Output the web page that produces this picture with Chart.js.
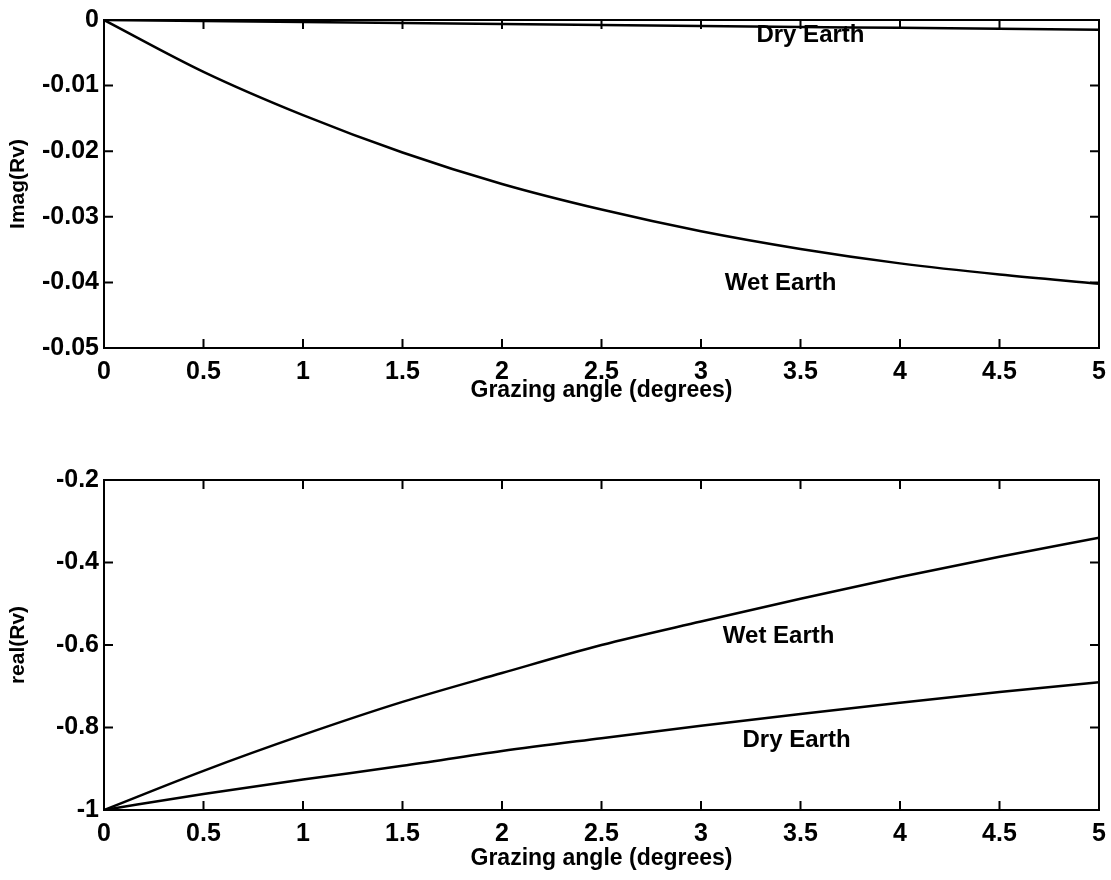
<!DOCTYPE html>
<html>
<head>
<meta charset="utf-8">
<script src="https://cdn.jsdelivr.net/npm/chart.js@4.4.0/dist/chart.umd.min.js"></script>
<style>
  body { margin: 0; background: #fff; }
  .box { width: 1111px; height: 440px; }
</style>
</head>
<body>
<div class="box"><canvas id="imagChart" width="1111" height="440"></canvas></div>
<div class="box"><canvas id="realChart" width="1111" height="440"></canvas></div>
<script>
// grazing angle (degrees)
const angles = [0, 0.5, 1, 1.5, 2, 2.5, 3, 3.5, 4, 4.5, 5];
const xTicks = [0, 0.5, 1, 1.5, 2, 2.5, 3, 3.5, 4, 4.5, 5];
const xTickLabels = ['0', '0.5', '1', '1.5', '2', '2.5', '3', '3.5', '4', '4.5', '5'];

// top plot: imag(Rv)
const imagWet = [0, -0.0079, -0.0145, -0.0202, -0.0250, -0.0289, -0.0322, -0.0349, -0.0371, -0.0388, -0.0402];
const imagDry = [0, -0.00015, -0.0003, -0.00045, -0.0006, -0.00075, -0.0009, -0.00105, -0.0012, -0.00135, -0.0015];
const imagTicks = [-0.05, -0.04, -0.03, -0.02, -0.01, 0];
const imagTickLabels = ['-0.05', '-0.04', '-0.03', '-0.02', '-0.01', '0'];

// bottom plot: real(Rv)
const realWet = [-1, -0.905, -0.818, -0.738, -0.668, -0.600, -0.543, -0.488, -0.435, -0.386, -0.340];
const realDry = [-1, -0.961, -0.926, -0.893, -0.857, -0.826, -0.796, -0.767, -0.740, -0.714, -0.690];
const realTicks = [-1, -0.8, -0.6, -0.4, -0.2];
const realTickLabels = ['-1', '-0.8', '-0.6', '-0.4', '-0.2'];

// curve labels, in data coordinates
const imagLabels = [{ text: 'Dry Earth', x: 3.55, y: -0.0023 }, { text: 'Wet Earth', x: 3.40, y: -0.0402 }];
const realLabels = [{ text: 'Wet Earth', x: 3.39, y: -0.58 }, { text: 'Dry Earth', x: 3.48, y: -0.83 }];

const FONT = 'Liberation Sans, Arial, Helvetica, sans-serif';

function toPoints(ys) {
  return angles.map((a, i) => ({ x: a, y: ys[i] }));
}

// matlab style frame: full box with inward ticks on all four sides
const framePlugin = {
  id: 'frame',
  afterDraw: (chart) => {
    const { ctx, chartArea: a, scales } = chart;
    const len = 9;
    ctx.save();
    ctx.strokeStyle = '#000';
    ctx.lineWidth = 2;
    ctx.strokeRect(a.left, a.top, a.right - a.left, a.bottom - a.top);
    ctx.beginPath();
    scales.x.ticks.forEach(t => {
      const px = scales.x.getPixelForValue(t.value);
      ctx.moveTo(px, a.bottom); ctx.lineTo(px, a.bottom - len);
      ctx.moveTo(px, a.top); ctx.lineTo(px, a.top + len);
    });
    scales.y.ticks.forEach(t => {
      const py = scales.y.getPixelForValue(t.value);
      ctx.moveTo(a.left, py); ctx.lineTo(a.left + len, py);
      ctx.moveTo(a.right, py); ctx.lineTo(a.right - len, py);
    });
    ctx.stroke();

    // curve labels
    ctx.fillStyle = '#000';
    ctx.font = 'bold 24px ' + FONT;
    ctx.textAlign = 'center';
    ctx.textBaseline = 'middle';
    (chart.options.plugins.frame.labels || []).forEach(l => {
      ctx.fillText(l.text, scales.x.getPixelForValue(l.x), scales.y.getPixelForValue(l.y));
    });
    ctx.restore();
  }
};

function makeChart(id, wet, dry, yTicks, yTickLabels, yMin, yMax, yTitle, labels, padTop, padBottom, xHeight) {
  const ctx = document.getElementById(id).getContext('2d');
  return new Chart(ctx, {
    type: 'line',
    data: {
      datasets: [
        { label: 'Wet Earth', data: toPoints(wet), borderColor: '#000', borderWidth: 2.5, pointRadius: 0, cubicInterpolationMode: 'monotone', fill: false },
        { label: 'Dry Earth', data: toPoints(dry), borderColor: '#000', borderWidth: 2.5, pointRadius: 0, cubicInterpolationMode: 'monotone', fill: false }
      ]
    },
    options: {
      responsive: false,
      animation: false,
      layout: { padding: { top: padTop, right: 12, left: 0, bottom: padBottom } },
      plugins: {
        legend: { display: false },
        tooltip: { enabled: false },
        frame: { labels: labels }
      },
      scales: {
        x: {
          type: 'linear',
          min: 0, max: 5,
          afterBuildTicks: (s) => { s.ticks = xTicks.map(v => ({ value: v })); },
          afterFit: (s) => { s.height = xHeight; s.paddingLeft = 0; s.paddingRight = 0; },
          grid: { display: false, drawTicks: false },
          border: { display: false },
          ticks: {
            color: '#000', padding: 9, maxRotation: 0,
            font: { family: FONT, size: 25, weight: 'bold' },
            callback: (v, i) => xTickLabels[i]
          },
          title: { display: true, text: 'Grazing angle (degrees)', color: '#000', padding: 0, font: { family: FONT, size: 23, weight: 'bold' } }
        },
        y: {
          type: 'linear',
          min: yMin, max: yMax,
          afterBuildTicks: (s) => { s.ticks = yTicks.map(v => ({ value: v })); },
          afterFit: (s) => { s.width = 104; },
          grid: { display: false, drawTicks: false },
          border: { display: false },
          ticks: {
            color: '#000', padding: 5,
            font: { family: FONT, size: 25, weight: 'bold' },
            callback: (v, i) => yTickLabels[i]
          },
          title: { display: true, text: yTitle, color: '#000', padding: { top: 6, bottom: 0 }, font: { family: FONT, size: 21, weight: 'bold' } }
        }
      }
    },
    plugins: [framePlugin]
  });
}

makeChart('imagChart', imagWet, imagDry, imagTicks, imagTickLabels, -0.05, 0, 'Imag(Rv)', imagLabels, 15, 36, 56);
makeChart('realChart', realWet, realDry, realTicks, realTickLabels, -1, -0.2, 'real(Rv)', realLabels, 40, 8, 62);
</script>
</body>
</html>
